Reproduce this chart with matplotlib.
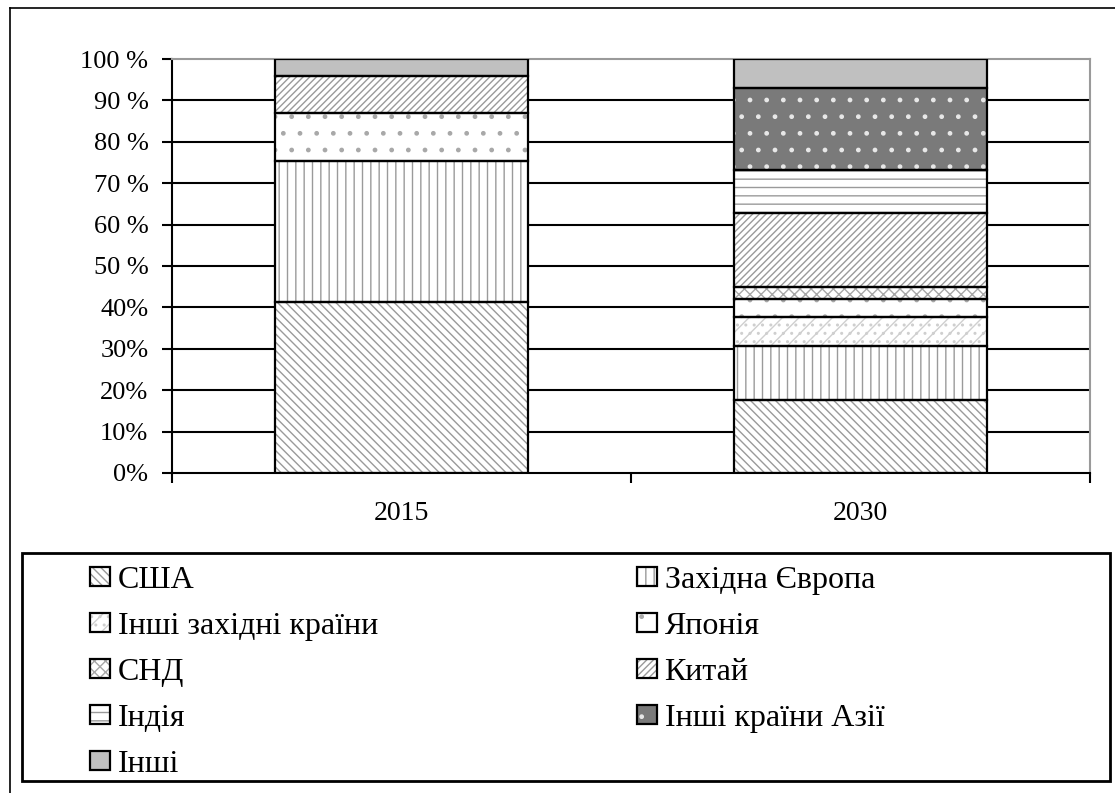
import matplotlib.pyplot as plt
from matplotlib.patches import Rectangle
from matplotlib.lines import Line2D

plt.rcParams['font.family'] = ['Liberation Serif', 'DejaVu Serif']
plt.rcParams['hatch.linewidth'] = 1.0

years = ['2015', '2030']
regions = ['США', 'Західна Європа', 'Інші західні країни', 'Японія', 'СНД',
           'Китай', 'Індія', 'Інші країни Азії', 'Інші']

# shares, %
share_2015 = [41.3, 34.0, 0.0, 11.7, 0.0, 8.9, 0.0, 0.0, 4.1]
share_2030 = [17.6, 13.1, 7.0, 4.3, 3.0, 17.9, 10.2, 19.9, 7.0]

# (face colour, hatch colour, hatch) per region
styles = [
    ('white', '#9a9a9a', '\\\\\\\\'),
    ('white', '#9a9a9a', '||'),
    ('white', '#cfcfcf', '//..'),
    ('white', '#a8a8a8', '.'),
    ('white', '#a8a8a8', 'xxx'),
    ('white', '#9a9a9a', '/////'),
    ('white', '#9a9a9a', '--'),
    ('#7a7a7a', '#e8e8e8', '.'),
    ('#c0c0c0', '#c0c0c0', ''),
]

W, H = 1115, 793
fig = plt.figure(figsize=(W / 100, H / 100), dpi=100)
ax = fig.add_axes([172 / W, 1 - 473 / H, (1090 - 172) / W, (473 - 59) / H])

x = [0, 1]
bar_w = 0.553
bottoms = [0.0, 0.0]
for i, name in enumerate(regions):
    vals = [share_2015[i], share_2030[i]]
    face, hcol, hatch = styles[i]
    for j in range(2):
        if vals[j] <= 0:
            continue
        ax.bar(x[j], vals[j], bar_w, bottom=bottoms[j], color=face,
               edgecolor=hcol, linewidth=0, hatch=hatch, zorder=2)
        ax.bar(x[j], vals[j], bar_w, bottom=bottoms[j], fill=False,
               edgecolor='black', linewidth=1.6, zorder=3)
        bottoms[j] += vals[j]

ax.set_xlim(-0.5, 1.5)
ax.set_ylim(0, 100)
ax.set_yticks(range(0, 101, 10))
ylabels = ['%d%%' % v if v < 50 else '%d %%' % v for v in range(0, 101, 10)]
ax.set_yticklabels(ylabels, fontsize=19)
ax.tick_params(axis='y', length=7, width=1.5, pad=10)

ax.set_xticks([-0.5, 0.5, 1.5])
ax.set_xticklabels([])
ax.set_xticks(x, minor=True)
ax.set_xticklabels(years, minor=True, fontsize=20)
ax.tick_params(axis='x', which='major', length=7, width=1.5)
ax.tick_params(axis='x', which='minor', length=0, pad=20)

for v in range(10, 100, 10):
    ax.axhline(v, color='black', linewidth=1.5, zorder=1)
ax.spines['left'].set_linewidth(1.5)
ax.spines['bottom'].set_linewidth(1.5)
ax.spines['top'].set_color('#9a9a9a')
ax.spines['right'].set_color('#9a9a9a')
ax.spines['top'].set_linewidth(1.5)
ax.spines['right'].set_linewidth(1.5)

# outer frame (left and top edges only are visible)
fig.add_artist(Line2D([10 / W, 10 / W], [0, 1 - 8 / H], color='black',
                      linewidth=1.2, transform=fig.transFigure))
fig.add_artist(Line2D([10 / W, 1], [1 - 8 / H, 1 - 8 / H], color='black',
                      linewidth=1.2, transform=fig.transFigure))

# legend box
fig.add_artist(Rectangle((22 / W, 1 - 781 / H), (1110 - 22) / W, (781 - 553) / H,
                         fill=False, edgecolor='black', linewidth=2,
                         transform=fig.transFigure))

handles = []
for face, hcol, hatch in styles:
    h1 = Rectangle((0, 0), 1, 1, facecolor=face, edgecolor=hcol, linewidth=0, hatch=hatch)
    h2 = Rectangle((0, 0), 1, 1, fill=False, edgecolor='black', linewidth=1.6)
    handles.append((h1, h2))
order = [0, 2, 4, 6, 8, 1, 3, 5, 7]
fig.legend([handles[k] for k in order], [regions[k] for k in order],
           loc='upper left', bbox_to_anchor=(90 / W, 1 - 566 / H),
           bbox_transform=fig.transFigure, ncol=2, frameon=False,
           fontsize=23, handlelength=0.62, handleheight=0.56,
           handletextpad=0.25, labelspacing=0.53, columnspacing=8.1,
           borderpad=0, borderaxespad=0)

fig.savefig('out.png', dpi=100)
